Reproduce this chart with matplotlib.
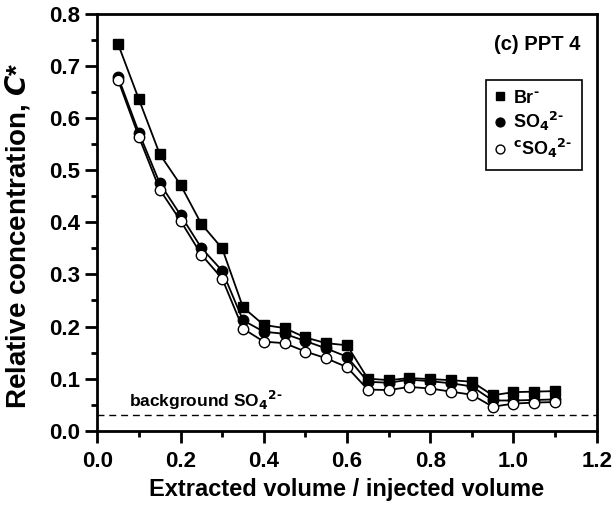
import matplotlib
matplotlib.use("Agg")
import matplotlib.pyplot as plt
from matplotlib.ticker import MultipleLocator

plt.rcParams["font.family"] = ["Liberation Sans", "DejaVu Sans"]
plt.rcParams["font.weight"] = "bold"
plt.rcParams["mathtext.default"] = "bf"

# extracted volume / injected volume
volume = [0.05, 0.10, 0.15, 0.20, 0.25, 0.30, 0.35, 0.40, 0.45, 0.50, 0.55,
          0.60, 0.65, 0.70, 0.75, 0.80, 0.85, 0.90, 0.95, 1.00, 1.05, 1.10]

br = [0.742, 0.636, 0.531, 0.472, 0.397, 0.350, 0.237, 0.203, 0.197, 0.179,
      0.168, 0.164, 0.100, 0.097, 0.101, 0.099, 0.097, 0.094, 0.068, 0.074,
      0.075, 0.076]
so4 = [0.679, 0.572, 0.475, 0.414, 0.351, 0.307, 0.212, 0.190, 0.186, 0.172,
       0.158, 0.142, 0.094, 0.092, 0.098, 0.095, 0.091, 0.085, 0.058, 0.058,
       0.059, 0.060]
so4_corr = [0.673, 0.564, 0.463, 0.403, 0.338, 0.292, 0.196, 0.171, 0.168,
            0.152, 0.139, 0.122, 0.079, 0.078, 0.084, 0.081, 0.075, 0.069,
            0.046, 0.052, 0.054, 0.055]

background = 0.03

SUP = r"$^{\mathbf{2}\text{-}}$"

fig = plt.figure(figsize=(6.14, 5.07), dpi=100)
ax = fig.add_axes([0.1585, 0.1505, 0.8133, 0.8219])

ax.plot(volume, br, color="black", lw=1.3, marker="s", ms=6.8,
        mfc="black", mec="black", label=r"Br$^{\text{-}}$")
ax.plot(volume, so4, color="black", lw=1.3, marker="o", ms=7.5,
        mfc="black", mec="black", label=r"SO$_{\mathbf{4}}$" + SUP)
ax.plot(volume, so4_corr, color="black", lw=1.3, marker="o", ms=7.5,
        mfc="white", mec="black", mew=1.0,
        label=r"$^{\mathbf{c}}$SO$_{\mathbf{4}}$" + SUP)

ax.axhline(background, color="black", lw=1.0, ls=(0, (5, 3.5)))
ax.text(0.077, 0.045, r"background SO$_{\mathbf{4}}$" + SUP,
        fontsize=12.5, fontweight="bold")

ax.text(1.16, 0.73, "(c) PPT 4", fontsize=14.5, fontweight="bold", ha="right")

ax.set_xlim(0, 1.2)
ax.set_ylim(0, 0.8)
ax.xaxis.set_major_locator(MultipleLocator(0.2))
ax.xaxis.set_minor_locator(MultipleLocator(0.1))
ax.yaxis.set_major_locator(MultipleLocator(0.1))
ax.yaxis.set_minor_locator(MultipleLocator(0.05))
ax.xaxis.set_major_formatter(lambda v, p: f"{v:.1f}")
ax.yaxis.set_major_formatter(lambda v, p: f"{v:.1f}")
ax.tick_params(which="both", direction="out", top=False, right=False,
               width=2, labelsize=16)
ax.tick_params(which="major", length=8.5)
ax.tick_params(which="minor", length=4.5)
ax.tick_params(axis="x", which="major", pad=6)
ax.tick_params(axis="y", which="major", pad=4)
for s in ax.spines.values():
    s.set_linewidth(2)

ax.set_xlabel("Extracted volume / injected volume", fontsize=17,
              fontweight="bold", va="top")
ax.xaxis.set_label_coords(0.5, -0.113)
ax.set_ylabel(r"Relative concentration, $\mathbfit{C}$*", fontsize=20,
              fontweight="bold")
ax.yaxis.set_label_coords(-0.13, 0.467)

leg = ax.legend(loc="upper right", bbox_to_anchor=(0.9706, 0.842),
                borderaxespad=0, fontsize=13, markerscale=0.85,
                handlelength=0.5, handletextpad=0.45, borderpad=0.55,
                labelspacing=0.2, fancybox=False, framealpha=1,
                edgecolor="black")
leg.get_frame().set_linewidth(1.2)
for h in leg.legend_handles:
    h.set_linestyle("")

fig.savefig("out.png", dpi=100)
